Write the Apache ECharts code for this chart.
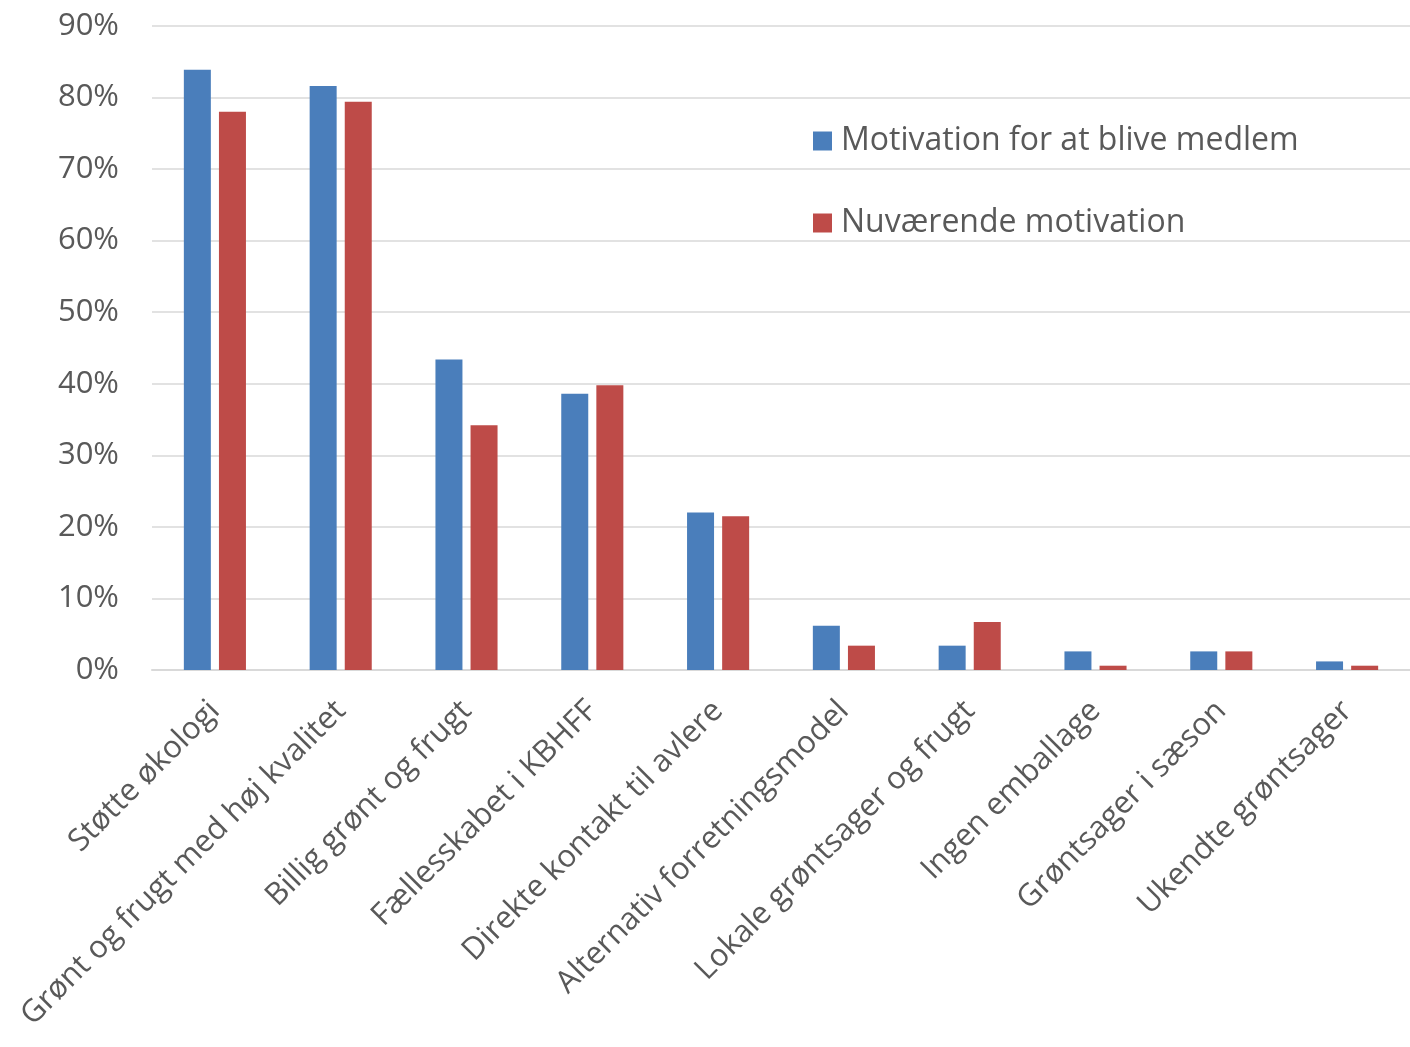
<!DOCTYPE html>
<html>
<head>
<meta charset="utf-8">
<script src="https://cdn.jsdelivr.net/npm/echarts@6/dist/echarts.min.js"></script>
<style>
html,body{margin:0;padding:0;background:#fff;}
#c{width:1410px;height:1047px;}
</style>
</head>
<body>
<div id="c"></div>
<script>
const categories = ["Støtte økologi","Grønt og frugt med høj kvalitet","Billig grønt og frugt","Fællesskabet i KBHFF","Direkte kontakt til avlere","Alternativ forretningsmodel","Lokale grøntsager og frugt","Ingen emballage","Grøntsager i sæson","Ukendte grøntsager"];
const seriesNames = ["Motivation for at blive medlem","Nuværende motivation"];
const motivationMedlem = [83.9,81.6,43.4,38.6,22.0,6.2,3.4,2.6,2.6,1.2];
const nuvaerende = [78.0,79.4,34.2,39.8,21.5,3.4,6.7,0.6,2.6,0.6];
const yTicks = [0,10,20,30,40,50,60,70,80,90];

const font = "'Open Sans', 'Noto Sans', sans-serif";
const chart = echarts.init(document.getElementById('c'));
chart.setOption({
  animation:false,
  backgroundColor:'#fff',
  textStyle:{fontFamily:font},
  legend:{
    orient:'vertical',
    left:808, top:120,
    itemWidth:19, itemHeight:19, itemGap:50,
    icon:'rect',
    textStyle:{fontSize:32, color:'#595959', fontFamily:font, padding:[0,0,0,4]},
    data:seriesNames
  },
  grid:{left:152, right:0, top:26, bottom:377, containLabel:false},
  xAxis:{
    type:'category',
    data:categories,
    axisLine:{lineStyle:{color:'#d9d9d9', width:2}},
    axisTick:{show:false},
    axisLabel:{rotate:45, fontSize:31, color:'#595959', margin:36, interval:0, fontFamily:font}
  },
  yAxis:{
    type:'value',
    min:0, max:90, interval:10,
    axisLine:{show:false},
    axisTick:{show:false},
    splitLine:{lineStyle:{color:'#d9d9d9', width:1.5}},
    axisLabel:{fontSize:31, color:'#595959', margin:33, fontFamily:font,
      formatter:v => yTicks.includes(v) ? v + '%' : ''}
  },
  series:[
    {name:seriesNames[0], type:'bar', data:motivationMedlem, barWidth:27, barGap:'30%', itemStyle:{color:'#4a7ebb'}},
    {name:seriesNames[1], type:'bar', data:nuvaerende, barWidth:27, barGap:'30%', itemStyle:{color:'#be4b48'}}
  ]
});
</script>
</body>
</html>
